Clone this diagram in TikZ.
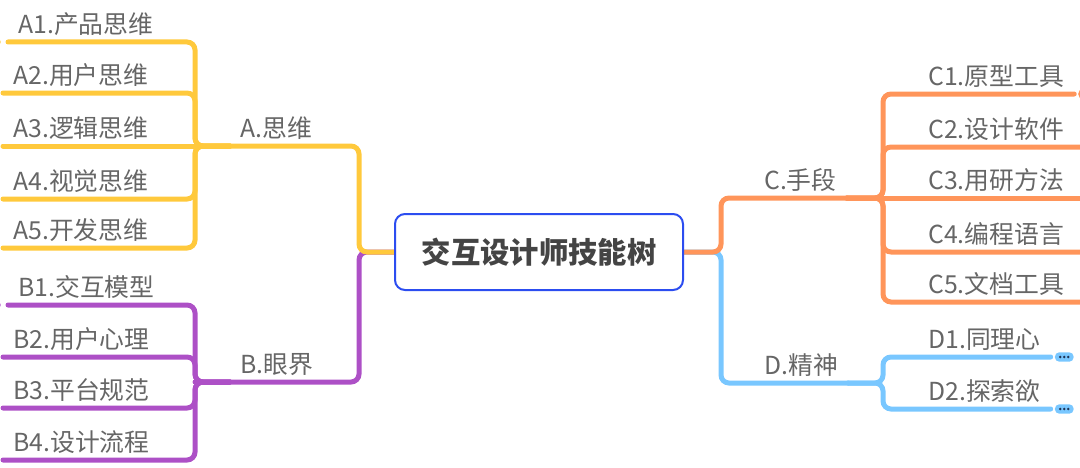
\documentclass[tikz,border=0pt]{standalone}
\usepackage{fontspec}
\setmainfont{Noto Sans CJK SC}
\usepackage{tikz}
\usetikzlibrary{positioning,calc,backgrounds}
\definecolor{thinkyellow}{HTML}{FFC93C}
\definecolor{viewpurple}{HTML}{AD50C6}
\definecolor{toolorange}{HTML}{FF955A}
\definecolor{spiritblue}{HTML}{79C7FF}
\definecolor{rootblue}{HTML}{2C4DF0}
\definecolor{labelgray}{HTML}{666666}
\definecolor{rootgray}{HTML}{444444}
\definecolor{dotnavy}{HTML}{1F3558}

\begin{document}
\begin{tikzpicture}[x=0.75pt,y=-0.75pt,
  branch/.style={line width=3.75pt, rounded corners=6pt, line cap=round},
  topic/.style={anchor=south west, inner xsep=7.5pt, inner ysep=0pt,
    text height=13pt, text depth=6pt, text=labelgray,
    font=\fontsize{18.6}{20}\selectfont},
  wideC/.style={topic, text width=106.5pt, align=left},
  foldmark/.style={circle, minimum size=7pt, inner sep=0pt, line width=1.2pt, fill=white},
  morepill/.style={rounded corners=3.2pt, minimum width=14pt, minimum height=7pt,
    inner sep=0pt, fill=spiritblue}]
  \useasboundingbox (0,0) rectangle (1080,467);

  % centre
  \node (root) [draw=rootblue, line width=1.5pt, rounded corners=7.5pt, fill=white,
    minimum width=216pt, minimum height=57pt, text=rootgray,
    font=\fontsize{22}{24}\selectfont\bfseries] at (539,252) {交互设计师技能树};

  % main branches
  \node (A) [topic] at (230,146) {A.思维};
  \node (B) [topic] at (230,382) {B.眼界};
  \node (C) [topic] at (754,198) {C.手段};
  \node (D) [topic] at (754,383) {D.精神};

  \coordinate (jA) at (195,146);
  \coordinate (jB) at (195,382);
  \coordinate (jC) at (883,198);
  \coordinate (jD) at (883,383);

  % leaves
  \node (A1) [topic] at (8,42) {A1.产品思维};
  \node (A2) [topic] at (3,93) {A2.用户思维};
  \node (A3) [topic] at (3,146) {A3.逻辑思维};
  \node (A4) [topic] at (3,199) {A4.视觉思维};
  \node (A5) [topic] at (3,248) {A5.开发思维};

  \node (B1) [topic] at (8,305) {B1.交互模型};
  \node (B2) [topic] at (3,357) {B2.用户心理};
  \node (B3) [topic] at (3,408) {B3.平台规范};
  \node (B4) [topic] at (3,460) {B4.设计流程};

  \node (C1) [topic] at (918,94) {C1.原型工具};
  \node (C2) [wideC] at (918,147) {C2.设计软件};
  \node (C3) [wideC] at (918,198) {C3.用研方法};
  \node (C4) [wideC] at (918,252) {C4.编程语言};
  \node (C5) [wideC] at (918,302) {C5.文档工具};

  \node (D1) [topic] at (918,357) {D1.同理心};
  \node (D2) [topic] at (918,409) {D2.探索欲};

  % folded markers
  \node (A1fold) [foldmark, draw=thinkyellow, left=5.5pt of A1.south west] {};
  \node (B1fold) [foldmark, draw=viewpurple, left=5.5pt of B1.south west] {};
  \node (C1fold) [foldmark, draw=toolorange, right=3pt of C1.south east] {};
  \node (D1more) [morepill, right=3pt of D1.south east] {};
  \node (D2more) [morepill, right=3pt of D2.south east] {};
  \foreach \p in {D1more,D2more}
    \foreach \dx in {-4,0,4}
      \fill[dotnavy] ($(\p.center)+(\dx,0)$) circle (1.4);

  \begin{pgfonlayer}{background}
    \draw[branch, viewpurple] (root.west) -- ++(-35,0) |- (B.south east) -- (jB);
    \draw[branch, thinkyellow] (root.west) -- ++(-35,0) |- (A.south east) -- (jA);
    \draw[branch, spiritblue] (root.east) -- ++(37,0) |- (D.south west) -- (D.south east);
    \draw[branch, toolorange] (root.east) -- ++(37,0) |- (C.south west) -- (C.south east);

    \draw[branch, thinkyellow] (A1.south west) -| (jA) -- (A.south west);
    \draw[branch, thinkyellow] (A2.south west) -| (jA) -- (A.south west);
    \draw[branch, thinkyellow] (A3.south west) -- (A.south west);
    \draw[branch, thinkyellow] (A4.south west) -| (jA) -- (A.south west);
    \draw[branch, thinkyellow] (A5.south west) -| (jA) -- (A.south west);

    \draw[branch, viewpurple] (B1.south west) -| (jB) -- (B.south west);
    \draw[branch, viewpurple] (B2.south west) -| (jB) -- (B.south west);
    \draw[branch, viewpurple] (B3.south west) -| (jB) -- (B.south west);
    \draw[branch, viewpurple] (B4.south west) -| (jB) -- (B.south west);

    \draw[branch, toolorange] (C.south east) -- (jC) |- (C1.south west) -- (C1.south east);
    \draw[branch, toolorange] (C.south east) -- (jC) |- (C2.south west) -- (C2.south east);
    \draw[branch, toolorange] (C.south east) -- (C3.south east);
    \draw[branch, toolorange] (C.south east) -- (jC) |- (C4.south west) -- (C4.south east);
    \draw[branch, toolorange] (C.south east) -- (jC) |- (C5.south west) -- (C5.south east);

    \draw[branch, spiritblue] (D.south east) -- (jD) |- (D1.south west) -- (D1.south east);
    \draw[branch, spiritblue] (D.south east) -- (jD) |- (D2.south west) -- (D2.south east);
  \end{pgfonlayer}
\end{tikzpicture}
\end{document}
